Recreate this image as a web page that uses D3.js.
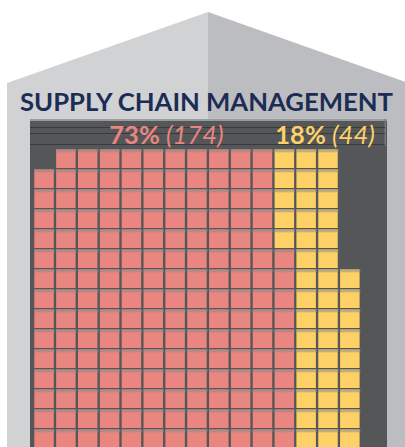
<!DOCTYPE html>
<html>
<head>
<meta charset="utf-8">
<script src="https://cdn.jsdelivr.net/npm/d3@7"></script>
<style>
  html, body { margin: 0; padding: 0; background: #ffffff; }
  svg { display: block; }
</style>
</head>
<body>
<svg id="chart" width="405" height="447"></svg>
<script>
// ---- data ----
const title = "SUPPLY CHAIN MANAGEMENT";
const categories = ["Category A", "Category B"];
const counts = [174, 44];
const percents = ["73%", "18%"];
const countLabels = ["(174)", "(44)"];
const colors = ["#e8867f", "#fed166"];
const nRows = 15;
const nCols = 15;
const firstColumnSkip = 1; // empty slot at the top of the first column

// ---- build cells: column-major, bottom to top ----
const cells = [];
let col = 0, rowFromBottom = 0;
let capacity = nRows - firstColumnSkip;
categories.forEach((cat, ci) => {
  for (let k = 0; k < counts[ci]; k++) {
    cells.push({ cat: ci, col: col, row: nRows - 1 - rowFromBottom });
    rowFromBottom++;
    if (rowFromBottom >= capacity) { col++; rowFromBottom = 0; capacity = nRows; }
  }
});

const svg = d3.select("#chart");

// house
svg.append("polygon").attr("points", "7,83 208,12 208,447 7,447").attr("fill", "#d1d2d4");
svg.append("polygon").attr("points", "208,12 410,83.5 410,447 208,447").attr("fill", "#bcbdc0");

// title
svg.append("text")
  .attr("x", 20).attr("y", 111)
  .attr("textLength", 373).attr("lengthAdjust", "spacingAndGlyphs")
  .attr("font-family", "Lato, 'DejaVu Sans', sans-serif")
  .attr("font-weight", 700).attr("font-size", 25)
  .attr("fill", "#1c2c55")
  .text(title);

// panel
svg.append("rect").attr("x", 30).attr("y", 119).attr("width", 357).attr("height", 330).attr("fill", "#545658");
svg.append("rect").attr("x", 30).attr("y", 119).attr("width", 357).attr("height", 2).attr("fill", "#9a9b9d");
svg.append("rect").attr("x", 384.5).attr("y", 119).attr("width", 1.5).attr("height", 27).attr("fill", "#7a7b7d");
[127, 133, 144].forEach(y => {
  svg.append("line").attr("x1", 30).attr("x2", 385).attr("y1", y + 0.5).attr("y2", y + 0.5)
    .attr("stroke", "#3a3b3d").attr("stroke-width", 1);
});

// scales
const x = d3.scaleBand().domain(d3.range(nCols)).range([34.3, 359.6]).paddingInner(0.107).paddingOuter(0);
const y = d3.scaleBand().domain(d3.range(nRows)).range([149.3, 448]).paddingInner(0.065).paddingOuter(0);

const g = svg.append("g");
g.selectAll("rect.cell").data(cells).join("rect")
  .attr("class", "cell")
  .attr("x", d => x(d.col)).attr("y", d => y(d.row))
  .attr("width", x.bandwidth()).attr("height", y.bandwidth())
  .attr("fill", d => colors[d.cat]);
g.selectAll("rect.cap").data(cells).join("rect")
  .attr("class", "cap")
  .attr("x", d => x(d.col)).attr("y", d => y(d.row))
  .attr("width", x.bandwidth() + 1).attr("height", 3)
  .attr("fill", "#8a8a8a").attr("fill-opacity", 0.5);

// labels centered at mean cell position
categories.forEach((cat, ci) => {
  const cs = cells.filter(c => c.cat === ci);
  const cx = d3.mean(cs, c => x(c.col) + x.bandwidth() / 2) + 5;
  const t = svg.append("text")
    .attr("x", cx).attr("y", 144)
    .attr("text-anchor", "middle")
    .attr("font-family", "Lato, 'DejaVu Sans', sans-serif")
    .attr("font-size", 25.5)
    .attr("fill", colors[ci]);
  t.append("tspan").attr("font-weight", 700).text(percents[ci] + " ");
  t.append("tspan").attr("font-weight", 400).attr("font-style", "italic").text(countLabels[ci]);
});
</script>
</body>
</html>
